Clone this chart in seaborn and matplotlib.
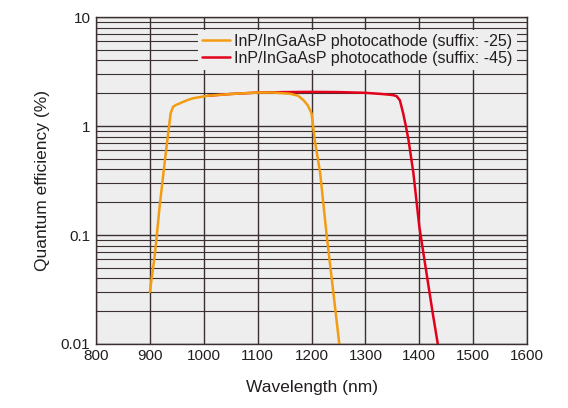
"""Quantum efficiency of InP/InGaAsP photocathodes vs wavelength."""

import matplotlib
matplotlib.use("Agg")
import matplotlib.pyplot as plt
from matplotlib.ticker import FixedLocator, FixedFormatter, LogLocator, NullFormatter
import numpy as np
import pandas as pd
import seaborn as sns

# Values
wl_25 = [900, 909.5, 918.7, 928, 935.5, 938.5, 943, 948, 956, 968, 980, 1008, 1050, 1100, 1130,
         1160, 1175, 1185, 1193, 1200, 1206, 1216, 1228, 1240, 1252]
qe_25 = [0.030, 0.068, 0.195, 0.49, 0.99, 1.31, 1.50, 1.56, 1.62, 1.72, 1.80, 1.90, 1.97, 2.03, 2.03,
         1.98, 1.90, 1.73, 1.55, 1.31, 0.74, 0.37, 0.10, 0.031, 0.0095]

wl_45 = [1008, 1050, 1100, 1150, 1200, 1250, 1300, 1330, 1345, 1352, 1358, 1364, 1370, 1375,
         1380, 1389, 1400, 1411.5, 1425, 1435]
qe_45 = [1.90, 1.97, 2.03, 2.05, 2.06, 2.05, 2.02, 1.97, 1.94, 1.92, 1.88, 1.72, 1.31, 1.00,
         0.74, 0.37, 0.119, 0.051, 0.019, 0.0095]

labels = ["InP/InGaAsP photocathode (suffix: -25)", "InP/InGaAsP photocathode (suffix: -45)"]
colors = ["#f39c12", "#e3001b"]

x_ticks = [800, 900, 1000, 1100, 1200, 1300, 1400, 1500, 1600]
y_ticks = [0.01, 0.1, 1, 10]
y_tick_labels = ["0.01", "0.1", "1", "10"]

sns.set_style("white")
plt.rcParams["font.family"] = ["Liberation Sans", "DejaVu Sans"]

df = pd.concat([
    pd.DataFrame({"wl": wl_45, "qe": qe_45, "series": labels[1]}),
    pd.DataFrame({"wl": wl_25, "qe": qe_25, "series": labels[0]}),
])

fig = plt.figure(figsize=(5.68, 4.08), dpi=100)
ax = fig.add_axes([0.169, 0.157, 0.759, 0.801])
ax.set_facecolor("#eeeeee")

sns.lineplot(data=df, x="wl", y="qe", hue="series", hue_order=labels[::-1],
             palette=colors[::-1], linewidth=1.8, sort=False, ax=ax, legend=False)
for ln in ax.lines:
    ln.set_solid_joinstyle("round")

ax.set_yscale("log")
ax.set_xlim(800, 1600)
ax.set_ylim(0.01, 10)
ax.xaxis.set_major_locator(FixedLocator(x_ticks))
ax.yaxis.set_major_locator(FixedLocator(y_ticks))
ax.yaxis.set_major_formatter(FixedFormatter(y_tick_labels))
ax.yaxis.set_minor_locator(LogLocator(base=10, subs=np.arange(2, 10)))
ax.yaxis.set_minor_formatter(NullFormatter())

ax.grid(True, which="major", color="#3a3030", linewidth=1.0)
ax.grid(True, which="minor", axis="y", color="#3a3030", linewidth=0.8)
ax.set_axisbelow(True)
for s in ax.spines.values():
    s.set_color("#3a3030")
    s.set_linewidth(1.0)
ax.tick_params(which="both", length=0, labelsize=11, pad=4, colors="#231f20")

ax.set_xlabel("Wavelength (nm)", fontsize=12.5, labelpad=12, color="#231f20")
ax.set_ylabel("Quantum efficiency (%)", fontsize=12.5, labelpad=8, color="#231f20")

handles = [plt.Line2D([], [], color=c, linewidth=1.8) for c in colors]
leg = ax.legend(handles, labels, loc="upper right", bbox_to_anchor=(0.976, 0.962),
                frameon=True, fontsize=11.5, handlelength=1.75, handletextpad=0.25,
                borderpad=0.25, labelspacing=0.15, borderaxespad=0)
leg.get_frame().set_facecolor("#eeeeee")
leg.get_frame().set_edgecolor("none")
leg.get_frame().set_alpha(1.0)
leg.get_frame().set_boxstyle("square", pad=0)
for t in leg.get_texts():
    t.set_color("#231f20")

fig.savefig("out.png", dpi=100)
